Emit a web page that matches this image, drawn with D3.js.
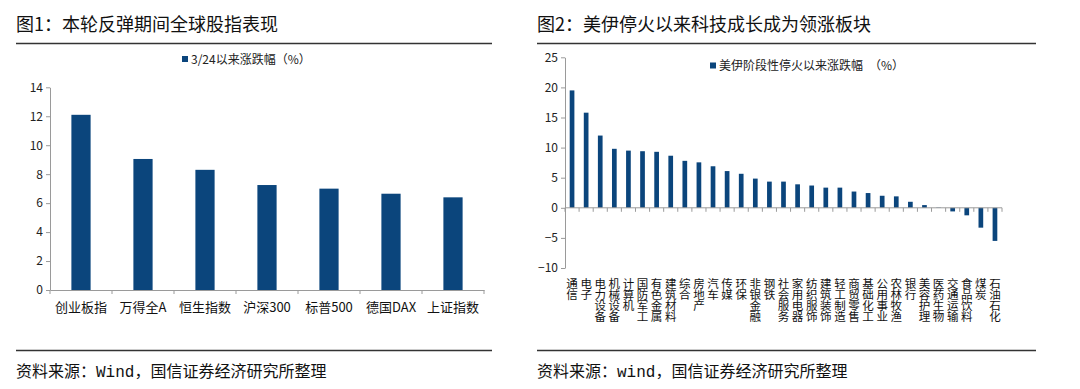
<!DOCTYPE html>
<html>
<head>
<meta charset="utf-8">
<script src="https://cdn.jsdelivr.net/npm/d3@7"></script>
<style>
    body { margin: 0; background: #fff; }
    svg { display: block; }
    text { font-family: "Noto Sans CJK SC", "Liberation Sans", sans-serif; }
</style>
</head>
<body>
<svg id="pic" width="1080" height="389"></svg>
<script>
//data of chart 1: global indices since 3/24
var indexNames = ["创业板指", "万得全A", "恒生指数", "沪深300", "标普500", "德国DAX", "上证指数"];
var indexValues = [12.1, 9.05, 8.3, 7.25, 7.0, 6.65, 6.4];
var indexTicks = [0, 2, 4, 6, 8, 10, 12, 14];

//data of chart 2: sectors since the ceasefire
var sectorNames = ["通信", "电子", "电力设备", "机械设备", "计算机", "国防军工", "有色金属", "建筑材料",
    "综合", "房地产", "汽车", "传媒", "环保", "非银金融", "钢铁", "社会服务", "家用电器", "纺织服饰",
    "建筑装饰", "轻工制造", "商贸零售", "基础化工", "公用事业", "农林牧渔", "银行", "美容护理",
    "医药生物", "交通运输", "食品饮料", "煤炭", "石油石化"];
var sectorValues = [19.5, 15.8, 12.0, 9.8, 9.5, 9.4, 9.3, 8.65, 7.8, 7.55, 6.9, 6.1, 5.65, 4.85,
    4.35, 4.35, 3.9, 3.7, 3.35, 3.35, 2.7, 2.45, 2.0, 1.9, 1.0, 0.45, 0.05, -0.6, -1.25, -3.3, -5.5];
var sectorTicks = [-10, -5, 0, 5, 10, 15, 20, 25];

var barColor = "#0b457c";
var axisColor = "#9a9a9a";

var svg = d3.select("#pic");

//titles, rules and source lines of both panels
function frame(x0, x1, title, source) {
    svg.append("text")
        .attr("x", x0)
        .attr("y", 31)
        .attr("font-size", 18)
        .attr("fill", "#111")
        .text(title);
    svg.append("line")
        .attr("x1", x0).attr("x2", x1)
        .attr("y1", 43.5).attr("y2", 43.5)
        .attr("stroke", "#333")
        .attr("stroke-width", 1.3);
    svg.append("line")
        .attr("x1", x0).attr("x2", x1)
        .attr("y1", 350.5).attr("y2", 350.5)
        .attr("stroke", "#333")
        .attr("stroke-width", 1.3);
    var s = svg.append("text")
        .attr("x", x0)
        .attr("y", 377)
        .attr("font-size", 16)
        .attr("fill", "#111");
    s.append("tspan").text("资料来源：");
    s.append("tspan").attr("font-family", "Liberation Mono, DejaVu Sans Mono, monospace").text(source);
    s.append("tspan").text("，国信证券经济研究所整理");
}

frame(16, 492, "图1：本轮反弹期间全球股指表现", "Wind");
frame(537, 1036, "图2：美伊停火以来科技成长成为领涨板块", "wind");

//draws a legend square with text
function legend(x, y, label) {
    svg.append("rect")
        .attr("x", x).attr("y", y - 3.5)
        .attr("width", 6).attr("height", 6)
        .attr("fill", barColor);
    svg.append("text")
        .attr("x", x + 9)
        .attr("y", y + 4)
        .attr("font-size", 12)
        .attr("fill", "#222")
        .text(label);
}

//---------- chart 1 ----------
var x1 = d3.scaleBand()
    .domain(indexNames)
    .range([50, 484])
    .paddingInner(0.69)
    .paddingOuter(0.345);

var y1 = d3.scaleLinear()
    .domain([0, 14])
    .range([290, 87.3]);

var g1 = svg.append("g");

g1.selectAll(".bar")
    .data(indexValues)
    .enter().append("rect")
    .attr("class", "bar")
    .attr("x", function(d, i) { return x1(indexNames[i]); })
    .attr("width", x1.bandwidth())
    .attr("y", function(d) { return y1(d); })
    .attr("height", function(d) { return y1(0) - y1(d); })
    .attr("fill", barColor);

//y axis
var yAxis1 = g1.append("g")
    .attr("transform", "translate(50,0)")
    .call(d3.axisLeft(y1).tickValues(indexTicks).tickSize(4).tickSizeOuter(0));

//x axis with ticks on band edges
var xAxis1 = g1.append("g")
    .attr("transform", "translate(0,290)")
    .call(d3.axisBottom(x1).tickSize(0).tickPadding(13).tickSizeOuter(0));

g1.selectAll(".edge")
    .data(d3.range(indexNames.length + 1))
    .enter().append("line")
    .attr("x1", function(i) { return 50 + i * x1.step(); })
    .attr("x2", function(i) { return 50 + i * x1.step(); })
    .attr("y1", 290).attr("y2", 294)
    .attr("stroke", axisColor);

legend(182, 59.5, "3/24以来涨跌幅（%）");

//---------- chart 2 ----------
var x2 = d3.scaleBand()
    .domain(sectorNames)
    .range([565, 1002])
    .paddingInner(0.667)
    .paddingOuter(0.333);

var y2 = d3.scaleLinear()
    .domain([-10, 25])
    .range([268, 57.3]);

var g2 = svg.append("g");

g2.selectAll(".bar")
    .data(sectorValues)
    .enter().append("rect")
    .attr("class", "bar")
    .attr("x", function(d, i) { return x2(sectorNames[i]); })
    .attr("width", x2.bandwidth())
    .attr("y", function(d) { return y2(Math.max(d, 0)); })
    .attr("height", function(d) { return Math.abs(y2(d) - y2(0)); })
    .attr("fill", barColor);

var yAxis2 = g2.append("g")
    .attr("transform", "translate(565,0)")
    .call(d3.axisLeft(y2).tickValues(sectorTicks).tickSize(4).tickSizeOuter(0));

//zero line
g2.append("line")
    .attr("x1", 565).attr("x2", 1002)
    .attr("y1", y2(0)).attr("y2", y2(0))
    .attr("stroke", axisColor);

g2.selectAll(".edge")
    .data(d3.range(sectorNames.length + 1))
    .enter().append("line")
    .attr("x1", function(i) { return 565 + i * x2.step(); })
    .attr("x2", function(i) { return 565 + i * x2.step(); })
    .attr("y1", y2(0)).attr("y2", y2(0) + 4)
    .attr("stroke", axisColor);

//vertical category labels written top to bottom
g2.selectAll(".lab")
    .data(sectorNames)
    .enter().append("text")
    .attr("class", "lab")
    .attr("x", function(d) { return x2(d) + x2.bandwidth() / 2; })
    .attr("y", 277.8)
    .style("writing-mode", "vertical-rl")
    .style("text-orientation", "upright")
    .style("letter-spacing", "-0.4px")
    .attr("font-size", 11.5)
    .attr("fill", "#111")
    .text(function(d) { return d; });

legend(710, 66, "美伊阶段性停火以来涨跌幅　（%）");

//common axis style
svg.selectAll(".domain").attr("stroke", axisColor);
svg.selectAll(".tick line").attr("stroke", axisColor);
yAxis1.selectAll("text").attr("font-size", 12).attr("fill", "#222").attr("font-family", "Liberation Sans, Arial, sans-serif");
yAxis2.selectAll("text").attr("font-size", 12).attr("fill", "#222").attr("font-family", "Liberation Sans, Arial, sans-serif");
xAxis1.selectAll("text").attr("font-size", 13).attr("fill", "#111");
</script>
</body>
</html>
